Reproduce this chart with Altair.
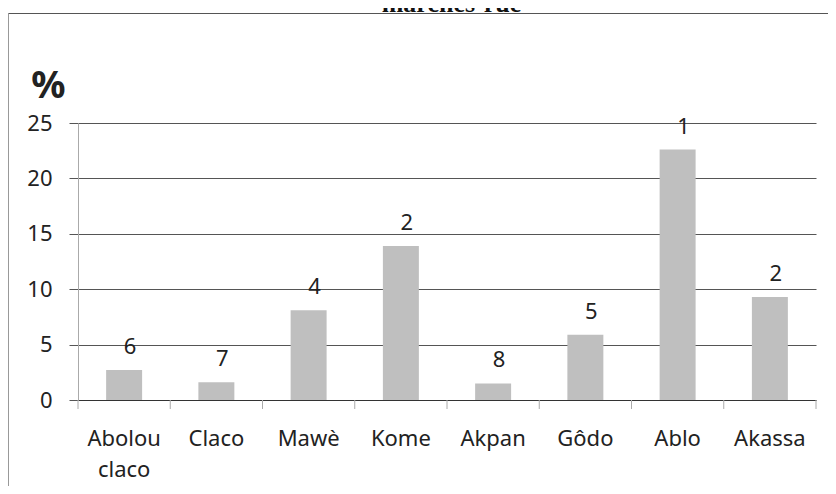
import altair as alt
import pandas as pd

categories = ["Abolou claco", "Claco", "Mawè", "Kome", "Akpan", "Gôdo", "Ablo", "Akassa"]
values = [2.7, 1.6, 8.1, 13.9, 1.5, 5.9, 22.6, 9.3]
ranks = ["6", "7", "4", "2", "8", "5", "1", "2"]
y_ticks = [0, 5, 10, 15, 20, 25]
caption = "marchés-rue"

W, H = 738, 277
FONT = "Noto Sans"

df = pd.DataFrame({"cat": categories, "val": values, "rank": ranks})
one = pd.DataFrame({"t": [caption]})

xs = alt.Scale(domain=categories, paddingInner=0, paddingOuter=0)
ys = alt.Scale(domain=[0, 25], nice=False)

base = alt.Chart(df)

bars = base.mark_bar(color="#bfbfbf", width=alt.RelativeBandSize(0.39)).encode(
    x=alt.X("cat:N", scale=xs, sort=categories,
            axis=alt.Axis(title=None, ticks=False, domainColor="#333", labelAngle=0,
                          labelFont=FONT, labelFontSize=22, labelColor="#222",
                          labelBaseline="alphabetic", labelPadding=45, labelLineHeight=31,
                          labelExpr="split(datum.label, ' ')")),
    y=alt.Y("val:Q", scale=ys,
            axis=alt.Axis(values=y_ticks, grid=True, gridColor="#555", tickColor="#555",
                          tickSize=9, domainColor="#aaa", labelPadding=17,
                          labelFont=FONT, labelFontSize=22, labelColor="#222",
                          title="%", titleAngle=0, titleX=-30, titleY=-26,
                          titleFont=FONT, titleFontSize=38, titleFontWeight="bold",
                          titleAlign="center", titleBaseline="alphabetic", titleColor="#222")),
)

labels = base.mark_text(font=FONT, fontSize=22, color="#222", dx=6, dy=-16,
                        baseline="alphabetic", align="center").encode(
    x=alt.X("cat:N", scale=xs, sort=categories),
    y=alt.Y("val:Q", scale=ys),
    text="rank:N",
)

xticks = base.mark_rule(color="#aaa", strokeWidth=1).encode(
    x=alt.X("cat:N", scale=xs, sort=categories, bandPosition=0),
    y=alt.value(H),
    y2=alt.value(H + 9),
)

oc = alt.Chart(one)
end_tick = oc.mark_rule(color="#aaa").encode(x=alt.value(W), y=alt.value(H), y2=alt.value(H + 9))
frame_left = oc.mark_rule(color="#999").encode(x=alt.value(-69.5), y=alt.value(-109.5), y2=alt.value(H + 200))
frame_top = oc.mark_rule(color="#555").encode(x=alt.value(-69.5), x2=alt.value(W + 20), y=alt.value(-109.5))
title = oc.mark_text(font="Liberation Serif", fontWeight="bold", fontSize=26, color="#111",
                     baseline="alphabetic", align="center").encode(
    x=alt.value(373.5), y=alt.value(-111), text="t:N")

chart = alt.layer(frame_left, frame_top, title, bars, labels, xticks, end_tick).properties(
    width=W, height=H,
    autosize=alt.AutoSizeParams(type="none"),
    padding={"left": 70, "top": 115, "right": 12, "bottom": 86},
    background="white",
).configure_view(stroke=None)

chart.save("out.html", embed_options={"renderer": "svg", "actions": False})
